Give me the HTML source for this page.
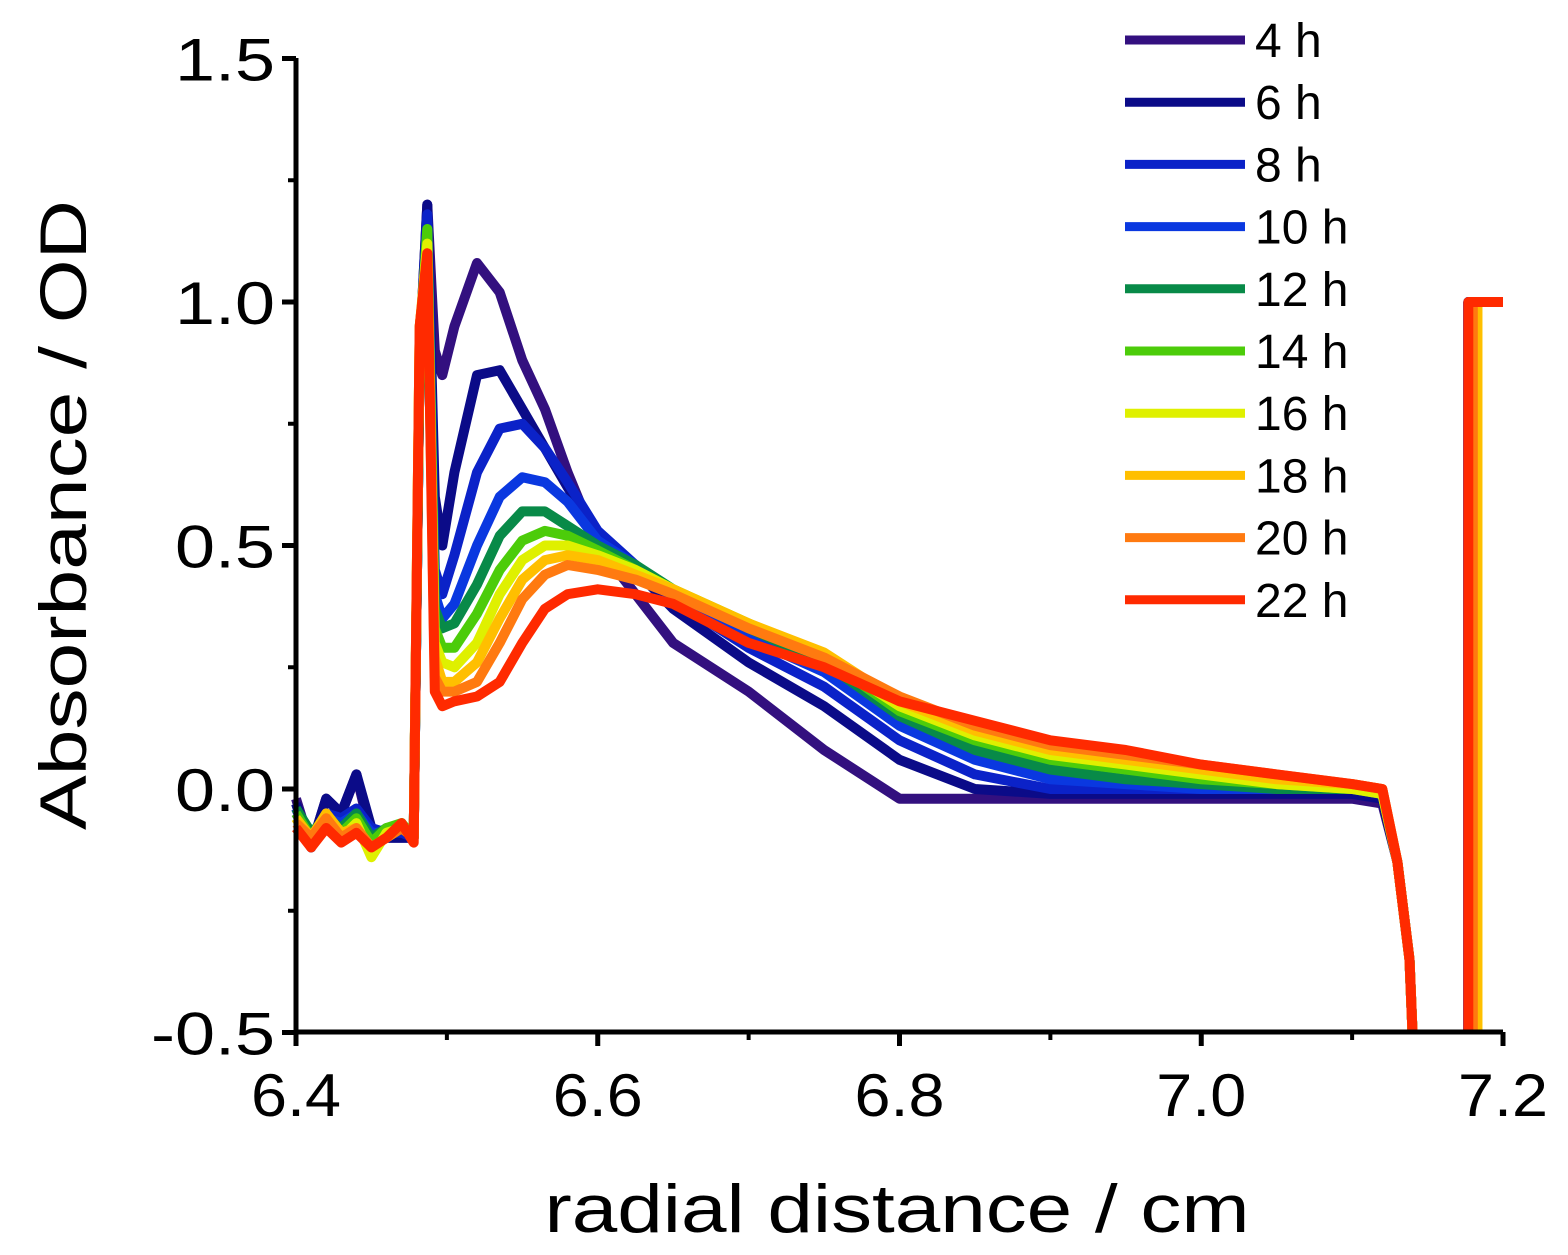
<!DOCTYPE html>
<html><head><meta charset="utf-8"><style>
html,body{margin:0;padding:0;background:#fff;}
svg{display:block;font-family:"Liberation Sans",sans-serif;}
</style></head><body>
<svg id="chart" width="1568" height="1255" viewBox="0 0 1568 1255">
<g id="series"></g>
<g id="axes"></g>
<g id="legend"></g>
<text transform="translate(86,515) rotate(-90)" text-anchor="middle" font-size="66" textLength="630" lengthAdjust="spacingAndGlyphs">Absorbance / OD</text>
<text x="897" y="1232" text-anchor="middle" font-size="68" textLength="705" lengthAdjust="spacingAndGlyphs">radial distance / cm</text>
</svg>
<script>
const xs=[6.40,6.41,6.42,6.43,6.44,6.45,6.46,6.47,6.478,6.482,6.487,6.492,6.497,6.505,6.52,6.535,6.55,6.565,6.58,6.6,6.625,6.65,6.7,6.75,6.8,6.85,6.9,6.95,7.0,7.05,7.1,7.12,7.13,7.138,7.14];
const labels=["4 h","6 h","8 h","10 h","12 h","14 h","16 h","18 h","20 h","22 h"];
const colors=["#33107f","#0b0b88","#0b22c8","#0a38e0","#088a48","#4ccc0a","#dff000","#ffbf00","#ff7a10","#ff2a00"];
const y4h =[-0.02,-0.12,-0.02,-0.05,0.03,-0.1,-0.1,-0.1,-0.1,0.9,1.2,0.9,0.85,0.95,1.08,1.02,0.88,0.78,0.65,0.5,0.4,0.3,0.2,0.08,-0.02,-0.02,-0.02,-0.02,-0.02,-0.02,-0.02,-0.03,-0.15,-0.35,-0.5];
const y6h =[-0.03,-0.12,-0.02,-0.05,0.03,-0.08,-0.1,-0.1,-0.1,0.9,1.2,0.6,0.5,0.65,0.85,0.86,0.78,0.7,0.62,0.52,0.45,0.37,0.26,0.17,0.06,0.0,-0.01,-0.01,-0.01,-0.01,-0.01,-0.02,-0.15,-0.35,-0.5];
const y8h =[-0.04,-0.11,-0.05,-0.06,-0.04,-0.08,-0.09,-0.09,-0.1,0.9,1.18,0.45,0.4,0.48,0.65,0.74,0.75,0.7,0.63,0.53,0.46,0.39,0.29,0.21,0.1,0.03,0.0,0.0,0.0,0.0,0.0,-0.01,-0.15,-0.35,-0.5];
const y10h=[-0.05,-0.1,-0.06,-0.07,-0.05,-0.09,-0.09,-0.08,-0.1,0.9,1.15,0.4,0.35,0.38,0.5,0.6,0.64,0.63,0.59,0.51,0.46,0.4,0.31,0.24,0.13,0.06,0.02,0.01,0.0,0.0,0.0,-0.01,-0.15,-0.35,-0.5];
const y12h=[-0.04,-0.09,-0.06,-0.08,-0.05,-0.1,-0.08,-0.08,-0.1,0.9,1.15,0.37,0.33,0.34,0.42,0.52,0.57,0.57,0.54,0.5,0.46,0.41,0.33,0.26,0.15,0.08,0.04,0.02,0.01,0.0,0.0,-0.01,-0.15,-0.35,-0.5];
const y14h=[-0.05,-0.1,-0.07,-0.09,-0.06,-0.11,-0.08,-0.07,-0.1,0.9,1.15,0.33,0.29,0.29,0.36,0.45,0.51,0.53,0.52,0.49,0.45,0.41,0.34,0.27,0.16,0.1,0.06,0.04,0.02,0.01,0.0,-0.01,-0.15,-0.35,-0.5];
const y16h=[-0.06,-0.11,-0.08,-0.1,-0.07,-0.14,-0.09,-0.08,-0.1,0.95,1.12,0.3,0.26,0.25,0.3,0.4,0.47,0.5,0.5,0.48,0.45,0.41,0.34,0.27,0.17,0.11,0.07,0.05,0.03,0.01,0.0,-0.01,-0.15,-0.35,-0.5];
const y18h=[-0.06,-0.1,-0.05,-0.09,-0.08,-0.12,-0.1,-0.08,-0.1,0.95,1.1,0.27,0.22,0.22,0.26,0.35,0.43,0.47,0.48,0.47,0.44,0.41,0.34,0.28,0.18,0.12,0.08,0.06,0.04,0.02,0.01,0.0,-0.15,-0.35,-0.5];
const y20h=[-0.07,-0.1,-0.06,-0.1,-0.08,-0.12,-0.1,-0.08,-0.1,0.95,1.1,0.23,0.2,0.2,0.22,0.3,0.39,0.44,0.46,0.45,0.43,0.4,0.33,0.27,0.19,0.13,0.09,0.07,0.05,0.03,0.01,0.0,-0.15,-0.35,-0.5];
const y22h=[-0.08,-0.12,-0.08,-0.11,-0.09,-0.12,-0.1,-0.07,-0.11,0.95,1.1,0.2,0.17,0.18,0.19,0.22,0.3,0.37,0.4,0.41,0.4,0.38,0.3,0.25,0.18,0.14,0.1,0.08,0.05,0.03,0.01,0.0,-0.15,-0.35,-0.5];
const seriesY=[y4h,y6h,y8h,y10h,y12h,y14h,y16h,y18h,y20h,y22h];
const rightEdgeX=[7.177,7.177,7.177,7.177,7.18,7.18,7.183,7.183,7.18,7.177];
const xTicks=[6.4,6.6,6.8,7.0,7.2];
const xTickLabels=["6.4","6.6","6.8","7.0","7.2"];
const yTicks=[-0.5,0.0,0.5,1.0,1.5];
const yTickLabels=["-0.5","0.0","0.5","1.0","1.5"];

const NS="http://www.w3.org/2000/svg";
const X=v=>296+(v-6.4)*(1503-296)/0.8;
const Y=v=>789-v*(789-302)/1.0;
function mk(tag,attrs,parent){const e=document.createElementNS(NS,tag);for(const k in attrs)e.setAttribute(k,attrs[k]);parent.appendChild(e);return e;}
const gS=document.getElementById('series'),gA=document.getElementById('axes'),gL=document.getElementById('legend');
seriesY.forEach((ys,i)=>{
  let d=ys.map((v,j)=>(j?'L':'M')+X(xs[j]).toFixed(1)+','+Y(v).toFixed(1)).join(' ');
  d+=' M'+X(rightEdgeX[i]).toFixed(1)+','+Y(-0.5)+' L'+X(rightEdgeX[i]).toFixed(1)+','+Y(1.0)+' L'+X(7.2)+','+Y(1.0);
  const p=mk('path',{d:d,fill:'none',stroke:colors[i],'stroke-width':10,'stroke-linejoin':'round'},gS);
  
  
});
const ax=mk('path',{d:`M296,58 L296,1032 L1503,1032`,fill:'none',stroke:'#000','stroke-width':5},gA);


xTicks.forEach((v,i)=>{
  mk('line',{x1:X(v),x2:X(v),y1:1032,y2:1046,stroke:'#000','stroke-width':5},gA);
  const t=mk('text',{x:X(v),y:1116,'text-anchor':'middle','font-size':60,textLength:90,lengthAdjust:'spacingAndGlyphs'},gA);
  t.textContent=xTickLabels[i];
  
  
});
[6.5,6.7,6.9,7.1].forEach(v=>mk('line',{x1:X(v),x2:X(v),y1:1032,y2:1040,stroke:'#000','stroke-width':4},gA));
yTicks.forEach((v,i)=>{
  const t=mk('text',{x:275,y:Y(v)+22,'text-anchor':'end','font-size':60,textLength:v<0?124:100,lengthAdjust:'spacingAndGlyphs'},gA);
  mk('line',{x1:282,x2:296,y1:Y(v),y2:Y(v),stroke:'#000','stroke-width':5},gA);
  t.textContent=yTickLabels[i];
  
  
});
[-0.25,0.25,0.75,1.25].forEach(v=>mk('line',{x1:288,x2:296,y1:Y(v),y2:Y(v),stroke:'#000','stroke-width':4},gA));
labels.forEach((l,i)=>{
  const y=40+i*62.2;
  const g=mk('g',{},gL);
  
  
  mk('line',{x1:1125,x2:1245,y1:y,y2:y,stroke:colors[i],'stroke-width':9},g);
  const t=mk('text',{x:1255,y:y+17,'font-size':48},g);
  t.textContent=l;
});
</script>
</body></html>
